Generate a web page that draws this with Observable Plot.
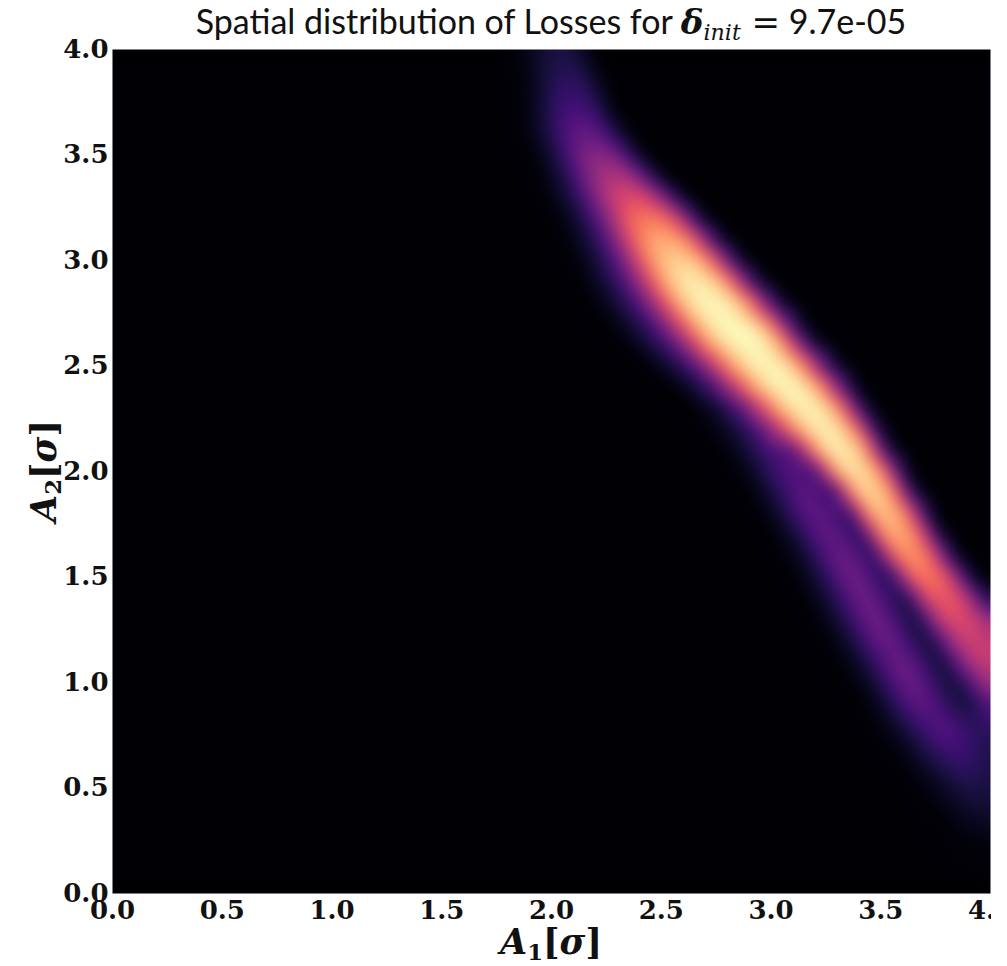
<!DOCTYPE html>
<html>
<head>
<meta charset="utf-8">
<script src="https://cdn.jsdelivr.net/npm/d3@7"></script>
<script src="https://cdn.jsdelivr.net/npm/@observablehq/plot@0.6"></script>
<style>
  html, body { margin: 0; padding: 0; background: #fff; }
  #wrap { position: relative; width: 1007px; height: 966px; overflow: hidden; }
  #title { position: absolute; left: 0; width: 1102px; top: 1px; text-align: center; line-height: 1.15;
           font-family: Lato, "Open Sans", sans-serif; font-size: 34px; color: #111; white-space: nowrap; }
  .m { font-family: "DejaVu Serif", serif; }
  .lab { position: absolute; font-family: "DejaVu Serif", serif; font-weight: bold; font-size: 35px; line-height: 1; color: #111; white-space: nowrap; }
  #xlab { left: 0; width: 1102px; text-align: center; top: 924px; }
  #ylab { left: 43px; top: 471px; transform: translate(-50%, -50%) rotate(-90deg); }
  sub { font-size: 65%; vertical-align: -0.25em; line-height: 0; }
</style>
</head>
<body>
<div id="wrap">
  <div id="chart"></div>
  <div id="title">Spatial distribution of Losses for <span class="m"><b><i>δ</i></b><sub><i>init</i></sub> =</span> 9.7e-05</div>
  <div id="xlab" class="lab"><i>A</i><sub>1</sub>[<i>σ</i>]</div>
  <div id="ylab" class="lab"><i>A</i><sub>2</sub>[<i>σ</i>]</div>
</div>
<script>
// Tick values (both axes)
const tickValues = [0, 0.5, 1.0, 1.5, 2.0, 2.5, 3.0, 3.5, 4.0];

// A2 value of each sampled row of the loss map
const a2Rows = [4.0, 3.9, 3.8, 3.7, 3.6, 3.5, 3.4, 3.3, 3.2, 3.1, 3.0, 2.9, 2.8, 2.7, 2.6, 2.5, 2.4, 2.3, 2.2, 2.1,
                2.0, 1.9, 1.8, 1.7, 1.6, 1.5, 1.4, 1.3, 1.2, 1.1, 1.0, 0.9, 0.8, 0.7, 0.6, 0.5, 0.4, 0.3, 0.2, 0.1, 0.0];

// For each row: pairs of (A1, loss in % of max)
const lossProfiles = [
  [0,0, 1.74,0, 1.80,1, 1.86,3, 1.92,7, 1.96,10, 2.00,11, 2.04,12, 2.08,11, 2.12,9, 2.16,4, 2.20,1, 2.24,0, 4,0],
  [0,0, 1.755,0, 1.818,1, 1.881,3, 1.944,8, 1.986,12, 2.028,14, 2.07,15, 2.112,14, 2.154,11, 2.196,5, 2.238,1, 2.28,0, 4,0],
  [0,0, 1.765,0, 1.831,1, 1.897,4, 1.963,10, 2.007,15, 2.051,18, 2.095,19, 2.139,18, 2.183,14, 2.227,7, 2.271,1, 2.315,0, 4,0],
  [0,0, 1.775,0, 1.844,1, 1.913,5, 1.982,13, 2.028,19, 2.074,23, 2.12,24, 2.166,22, 2.212,17, 2.258,8, 2.304,1, 2.35,0, 4,0],
  [0,0, 1.80,0, 1.872,2, 1.944,7, 2.016,17, 2.064,25, 2.112,29, 2.16,31, 2.208,29, 2.256,22, 2.304,11, 2.352,2, 2.40,0, 4,0],
  [0,0, 1.845,0, 1.92,2, 1.995,9, 2.07,22, 2.12,32, 2.17,38, 2.22,40, 2.27,37, 2.32,29, 2.37,14, 2.42,2, 2.47,0, 4,0],
  [0,0, 1.885,0, 1.966,3, 2.047,11, 2.128,28, 2.182,40, 2.236,47, 2.29,50, 2.344,47, 2.398,36, 2.452,18, 2.506,3, 2.56,0, 4,0],
  [0,0, 1.92,0, 2.01,4, 2.10,14, 2.19,34, 2.25,50, 2.31,58, 2.37,62, 2.43,58, 2.49,45, 2.55,22, 2.61,4, 2.67,0, 4,0],
  [0,0, 1.985,0, 2.078,5, 2.171,18, 2.264,42, 2.326,61, 2.388,71, 2.45,73, 2.512,71, 2.574,57, 2.636,28, 2.698,4, 2.76,0, 4,0],
  [0,0, 2.025,0, 2.124,6, 2.223,20, 2.322,48, 2.388,70, 2.454,81, 2.52,83, 2.586,81, 2.652,65, 2.718,32, 2.784,5, 2.85,0, 4,0],
  [0,0, 2.065,0, 2.17,6, 2.275,22, 2.38,53, 2.45,76, 2.52,88, 2.59,91, 2.66,88, 2.73,71, 2.80,35, 2.87,5, 2.94,0, 4,0],
  [0,0, 2.105,0, 2.216,7, 2.327,23, 2.438,56, 2.512,81, 2.586,94, 2.66,97, 2.734,94, 2.808,76, 2.882,37, 2.956,6, 3.03,0, 4,0],
  [0,0, 2.155,0, 2.272,7, 2.389,24, 2.506,58, 2.584,84, 2.662,97, 2.74,100, 2.818,97, 2.896,78, 2.974,38, 3.052,6, 3.13,0, 4,0],
  [0,0, 2.22,0, 2.34,7, 2.46,24, 2.58,58, 2.66,84, 2.74,97, 2.82,100, 2.90,97, 2.98,78, 3.06,38, 3.14,6, 3.22,0, 4,0],
  [0,0, 2.30,0, 2.42,7, 2.54,24, 2.66,58, 2.74,84, 2.82,97, 2.90,100, 2.98,97, 3.06,78, 3.14,38, 3.22,6, 3.30,0, 4,0],
  [0,0, 2.405,0, 2.522,7, 2.639,24, 2.756,58, 2.834,84, 2.912,97, 2.99,100, 3.068,97, 3.146,78, 3.224,38, 3.302,6, 3.38,0, 4,0],
  [0,0, 2.518,0, 2.63,7, 2.743,24, 2.855,58, 2.93,84, 3.005,97, 3.08,100, 3.155,97, 3.23,78, 3.305,38, 3.38,6, 3.455,0, 4,0],
  [0,0, 2.645,0, 2.75,7, 2.855,24, 2.96,57, 3.03,83, 3.10,96, 3.17,99, 3.24,96, 3.31,77, 3.38,38, 3.45,6, 3.52,0, 4,0],
  [0,0, 2.65,0, 2.763,4, 2.86,12, 2.958,28, 3.055,57, 3.12,82, 3.185,95, 3.25,98, 3.315,95, 3.38,76, 3.445,37, 3.51,6, 3.575,0, 4,0],
  [0,0, 2.71,0, 2.79,2, 2.86,7, 2.92,14, 2.98,21, 3.04,25, 3.10,27, 3.155,51, 3.21,82, 3.265,96, 3.32,97, 3.38,94, 3.44,76, 3.50,37, 3.56,6, 3.62,0, 4,0],
  [0,0, 2.77,0, 2.85,2, 2.92,7, 2.98,15, 3.04,23, 3.10,27, 3.15,24, 3.19,20, 3.24,44, 3.29,80, 3.34,93, 3.39,95, 3.448,92, 3.506,74, 3.564,36, 3.622,6, 3.68,0, 4,0],
  [0,0, 2.83,0, 2.91,2, 2.98,8, 3.04,16, 3.10,25, 3.16,29, 3.22,23, 3.28,15, 3.324,40, 3.366,74, 3.408,90, 3.45,92, 3.506,89, 3.562,72, 3.618,35, 3.674,6, 3.73,0, 4,0],
  [0,0, 2.88,0, 2.96,2, 3.03,8, 3.09,17, 3.15,26, 3.21,30, 3.27,25, 3.34,15, 3.394,40, 3.436,73, 3.478,86, 3.52,88, 3.574,85, 3.628,69, 3.682,33, 3.736,5, 3.79,0, 4,0],
  [0,0, 2.94,0, 3.02,2, 3.09,8, 3.15,17, 3.21,27, 3.27,31, 3.33,26, 3.40,14, 3.454,38, 3.496,69, 3.538,82, 3.58,83, 3.632,81, 3.684,65, 3.736,32, 3.788,5, 3.84,0, 4,0],
  [0,0, 3.00,0, 3.08,3, 3.15,8, 3.21,18, 3.27,28, 3.33,32, 3.39,27, 3.46,14, 3.514,36, 3.556,64, 3.598,76, 3.64,78, 3.692,76, 3.744,61, 3.796,30, 3.848,5, 3.90,0, 4,0],
  [0,0, 3.05,0, 3.13,3, 3.20,9, 3.26,18, 3.32,28, 3.38,33, 3.44,27, 3.50,16, 3.542,13, 3.584,33, 3.626,59, 3.668,71, 3.71,72, 3.765,70, 3.82,56, 3.875,27, 3.93,4, 3.985,0, 4,0],
  [0,0, 3.10,0, 3.18,3, 3.25,9, 3.31,18, 3.37,28, 3.43,33, 3.49,27, 3.55,16, 3.61,11, 3.654,29, 3.696,53, 3.738,64, 3.78,66, 3.838,64, 3.896,51, 3.954,25, 4,10],
  [0,0, 3.15,0, 3.23,3, 3.30,9, 3.36,18, 3.42,28, 3.48,33, 3.54,27, 3.60,16, 3.66,10, 3.715,27, 3.76,50, 3.805,59, 3.85,61, 3.91,59, 3.97,48, 4,40],
  [0,0, 3.20,0, 3.28,3, 3.35,9, 3.41,18, 3.47,28, 3.53,33, 3.59,27, 3.65,16, 3.71,9, 3.776,25, 3.824,45, 3.872,55, 3.92,57, 3.97,55, 4,51],
  [0,0, 3.26,0, 3.34,3, 3.41,9, 3.47,18, 3.53,28, 3.59,33, 3.65,27, 3.71,16, 3.77,9, 3.834,24, 3.886,43, 3.938,52, 3.99,54, 4,54],
  [0,0, 3.31,0, 3.39,3, 3.46,8, 3.52,18, 3.58,27, 3.64,32, 3.70,26, 3.76,16, 3.83,9, 3.895,21, 3.95,39, 4,47],
  [0,0, 3.36,0, 3.44,2, 3.51,8, 3.57,17, 3.63,25, 3.69,30, 3.75,25, 3.81,16, 3.87,9, 3.95,17, 4,29],
  [0,0, 3.39,0, 3.48,2, 3.56,7, 3.63,15, 3.70,23, 3.77,27, 3.84,23, 3.91,16, 3.96,15, 4,20],
  [0,0, 3.45,0, 3.54,2, 3.62,6, 3.69,13, 3.76,20, 3.83,23, 3.90,20, 3.97,14, 4,14],
  [0,0, 3.50,0, 3.59,1, 3.67,5, 3.74,10, 3.81,15, 3.88,18, 3.95,15, 4,12],
  [0,0, 3.55,0, 3.64,1, 3.72,3, 3.79,7, 3.86,11, 3.93,13, 4,11],
  [0,0, 3.59,0, 3.68,1, 3.76,2, 3.83,5, 3.90,8, 3.97,9, 4,9],
  [0,0, 3.63,0, 3.80,1, 3.87,3, 3.94,4, 4,5],
  [0,0, 3.70,0, 3.85,1, 3.95,2, 4,2],
  [0,0, 3.80,0, 4,1],
  [0,0, 4,0]
];

// Build a table of samples for the raster
const cells = [];
a2Rows.forEach((a2, i) => {
  const r = lossProfiles[i];
  for (let k = 0; k < r.length; k += 2) cells.push({a1: r[k], a2, loss: r[k + 1]});
});

const chart = Plot.plot({
  width: 991,
  height: 966,
  marginLeft: 112,
  marginRight: 1,
  marginTop: 49,
  marginBottom: 73,
  style: {fontFamily: "DejaVu Serif, serif", fontWeight: "bold", fontSize: "26px", color: "#111", background: "transparent"},
  x: {domain: [0, 4]},
  y: {domain: [0, 4]},
  color: {type: "linear", scheme: "magma", domain: [0, 100], clamp: true},
  marks: [
    Plot.raster(cells, {x: "a1", y: "a2", fill: "loss", interpolate: "barycentric", blur: 7}),
    Plot.axisX({ticks: tickValues, tickFormat: d3.format(".1f"), tickSize: 0, tickPadding: 7, label: null}),
    Plot.axisY({ticks: tickValues, tickFormat: d3.format(".1f"), tickSize: 0, tickPadding: 4, label: null})
  ]
});
document.getElementById("chart").appendChild(chart);
</script>
</body>
</html>
